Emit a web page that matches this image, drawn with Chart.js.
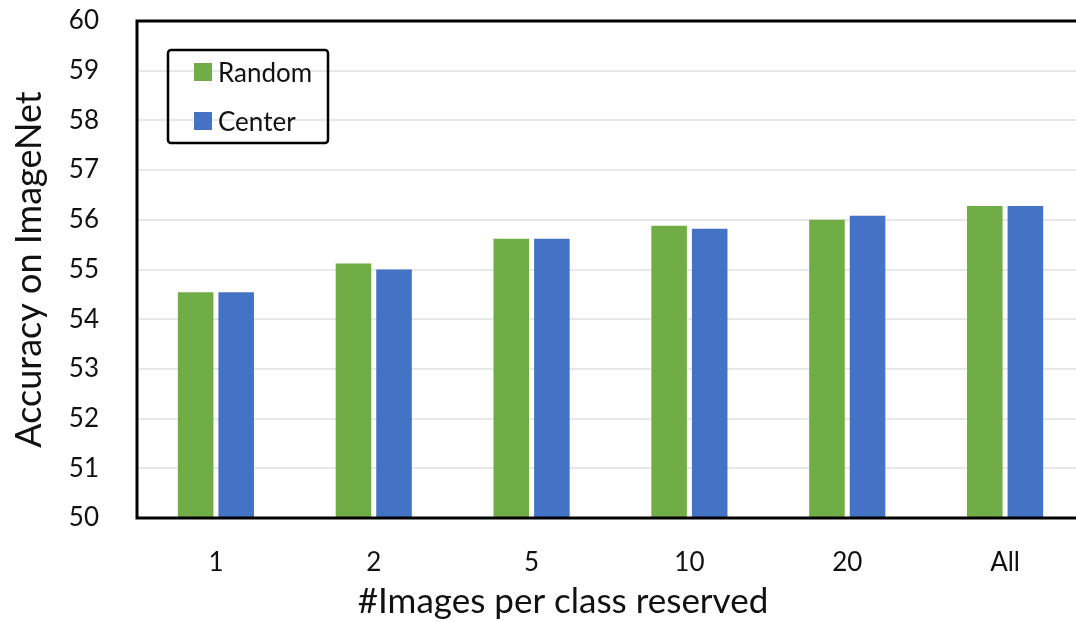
<!DOCTYPE html>
<html>
<head>
<meta charset="utf-8">
<script src="https://cdn.jsdelivr.net/npm/chart.js@4"></script>
<style>
    html, body { margin: 0; padding: 0; background: #fff; overflow: hidden; }
    #wrap { width: 1092px; height: 622px; }
</style>
</head>
<body>
<div id="wrap"><canvas id="myChart"></canvas></div>
<script>
var categories = ['1', '2', '5', '10', '20', 'All'];
var randomValues = [54.54, 55.12, 55.62, 55.88, 56.0, 56.28];
var centerValues = [54.54, 55.0, 55.62, 55.82, 56.08, 56.28];
var seriesNames = ['Random', 'Center'];
var xTitle = '#Images per class reserved';
var yTitle = 'Accuracy on ImageNet';
var yMin = 50;
var yMax = 60;

var fontName = 'Lato, "Open Sans", sans-serif';

// box round the plot, legend inside it, and the x title (centred on the whole figure)
var framePlugin = {
    id: 'frame',
    afterDraw: function(chart) {
        var ctx = chart.ctx;
        var a = chart.chartArea;
        ctx.save();
        ctx.strokeStyle = '#000';
        ctx.lineWidth = 3;
        ctx.strokeRect(a.left, a.top, a.right - a.left, a.bottom - a.top);

        // legend
        ctx.lineWidth = 2.5;
        ctx.beginPath();
        ctx.roundRect(168, 50, 160, 93, 3);
        ctx.stroke();
        ctx.font = '26px ' + fontName;
        ctx.textBaseline = 'middle';
        chart.data.datasets.forEach(function(ds, i) {
            var y = 72 + i * 49;
            ctx.fillStyle = ds.backgroundColor;
            ctx.fillRect(194, y - 9, 18, 18);
            ctx.fillStyle = '#111';
            ctx.fillText(ds.label, 218, y + 2);
        });

        ctx.font = '35px ' + fontName;
        ctx.textAlign = 'center';
        ctx.textBaseline = 'alphabetic';
        ctx.fillText(xTitle, 563, 613);
        ctx.restore();
    }
};

window.onload = function() {
    var myChart = document.getElementById('myChart').getContext('2d');
    new Chart(myChart, {
        type: 'bar',
        data: {
            labels: categories,
            datasets: [
                {
                    label: seriesNames[0],
                    data: randomValues,
                    backgroundColor: '#70AD47',
                    categoryPercentage: 0.514,
                    barPercentage: 0.877
                },
                {
                    label: seriesNames[1],
                    data: centerValues,
                    backgroundColor: '#4472C4',
                    categoryPercentage: 0.514,
                    barPercentage: 0.877
                }
            ]
        },
        options: {
            responsive: true,
            maintainAspectRatio: false,
            animation: false,
            layout: { padding: { top: 21, right: 8, left: 0, bottom: 0 } },
            plugins: {
                legend: { display: false },
                tooltip: { enabled: false }
            },
            scales: {
                x: {
                    grid: { display: false, drawTicks: false },
                    border: { display: false },
                    ticks: {
                        color: '#111',
                        padding: 29,
                        font: { family: fontName, size: 26 }
                    },
                    afterFit: function(scale) {
                        scale.height = 104;
                        scale.paddingLeft = 0;
                        scale.paddingRight = 0;
                    }
                },
                y: {
                    min: yMin,
                    max: yMax,
                    grid: { color: '#e8e8e8', lineWidth: 2, drawTicks: false },
                    border: { display: false },
                    ticks: {
                        stepSize: 1,
                        color: '#111',
                        padding: 38,
                        font: { family: fontName, size: 26 }
                    },
                    title: {
                        display: true,
                        text: yTitle,
                        color: '#111',
                        padding: { top: 8, bottom: 0 },
                        font: { family: fontName, size: 36 }
                    },
                    afterFit: function(scale) {
                        scale.width = 137;
                        scale.paddingTop = 0;
                        scale.paddingBottom = 0;
                    }
                }
            }
        },
        plugins: [framePlugin]
    });
};
</script>
</body>
</html>
